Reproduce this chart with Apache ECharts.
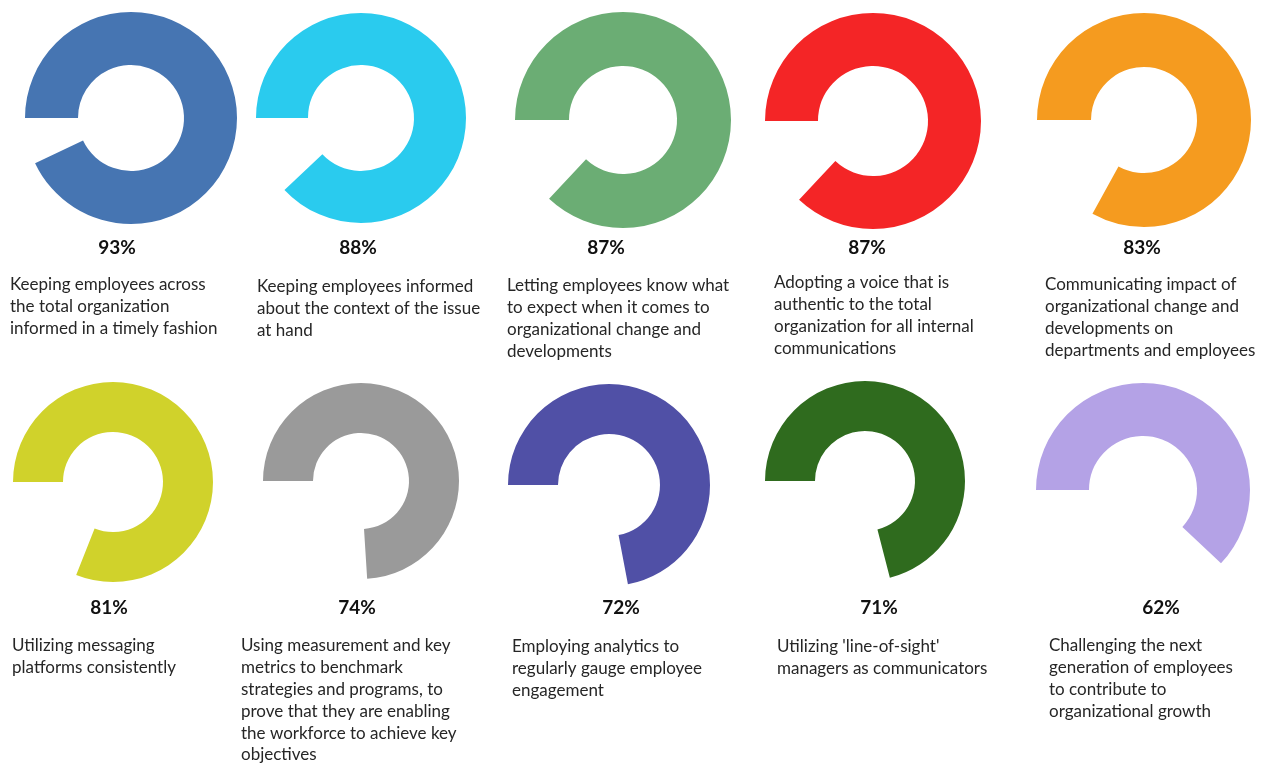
<!DOCTYPE html>
<html>
<head>
<meta charset="utf-8">
<script src="https://cdn.jsdelivr.net/npm/echarts@6/dist/echarts.min.js"></script>
<style>
html,body{margin:0;padding:0;background:#fff;}
#chart{width:1269px;height:766px;}
</style>
</head>
<body>
<div id="chart"></div>
<script>
// ---- data ----
var values = [93, 88, 87, 87, 83, 81, 74, 72, 71, 62];
var pctLabels = ['93%', '88%', '87%', '87%', '83%', '81%', '74%', '72%', '71%', '62%'];
var descriptions = [
  ['Keeping employees across', 'the total organization', 'informed in a timely fashion'],
  ['Keeping employees informed', 'about the context of the issue', 'at hand'],
  ['Letting employees know what', 'to expect when it comes to', 'organizational change and', 'developments'],
  ['Adopting a voice that is', 'authentic to the total', 'organization for all internal', 'communications'],
  ['Communicating impact of', 'organizational change and', 'developments on', 'departments and employees'],
  ['Utilizing messaging', 'platforms consistently'],
  ['Using measurement and key', 'metrics to benchmark', 'strategies and programs, to', 'prove that they are enabling', 'the workforce to achieve key', 'objectives'],
  ['Employing analytics to', 'regularly gauge employee', 'engagement'],
  ['Utilizing \'line-of-sight\'', 'managers as communicators'],
  ['Challenging the next', 'generation of employees', 'to contribute to', 'organizational growth']
];

// ---- layout & style ----
var colors = ['#4675B2', '#2ACBEE', '#6BAD74', '#F42526', '#F59B1F', '#D0D22B', '#9A9A9A', '#5050A6', '#2F6B1E', '#B4A2E6'];
var centers = [[131,118],[361,118],[623,120],[873,121],[1144,120],[113,482],[361,481],[609,485],[865,481],[1143,490]];
var radii = [[53,106],[53,105],[54,108],[55,108],[53,107],[50,100],[48,98],[51,101],[50,100],[54,107]];
var pctPos = [[117,248],[358,248],[606,248],[867,248],[1142,248],[109,608],[357,608],[621,608],[879,608],[1161,608]];
var descPos = [[10,285],[257,287],[507,286],[774,283],[1045,285],[12,646],[241,646],[512,647],[777,647],[1049,646]];
var lineH = 21.8;
var descFont = '17px Lato';
var pctFont = 'bold 19px Lato';

var series = values.map(function (v, i) {
  return {
    type: 'pie',
    center: centers[i],
    radius: radii[i],
    startAngle: 180,
    clockwise: true,
    silent: true,
    label: {show: false},
    labelLine: {show: false},
    emphasis: {disabled: true},
    data: [
      {value: v, itemStyle: {color: colors[i]}},
      {value: 100 - v, itemStyle: {color: 'rgba(0,0,0,0)'}}
    ]
  };
});

var graphics = [];
values.forEach(function (v, i) {
  graphics.push({
    type: 'text', x: pctPos[i][0], y: pctPos[i][1],
    style: {text: pctLabels[i], font: pctFont, fill: '#111', textAlign: 'center', textVerticalAlign: 'middle'}
  });
  descriptions[i].forEach(function (line, k) {
    graphics.push({
      type: 'text', x: descPos[i][0], y: descPos[i][1] + k * lineH,
      style: {text: line, font: descFont, fill: '#262626', textAlign: 'left', textVerticalAlign: 'middle'}
    });
  });
});

var chart = echarts.init(document.getElementById('chart'), null, {renderer: 'canvas'});
chart.setOption({
  backgroundColor: '#ffffff',
  animation: false,
  series: series,
  graphic: graphics
});
</script>
</body>
</html>
